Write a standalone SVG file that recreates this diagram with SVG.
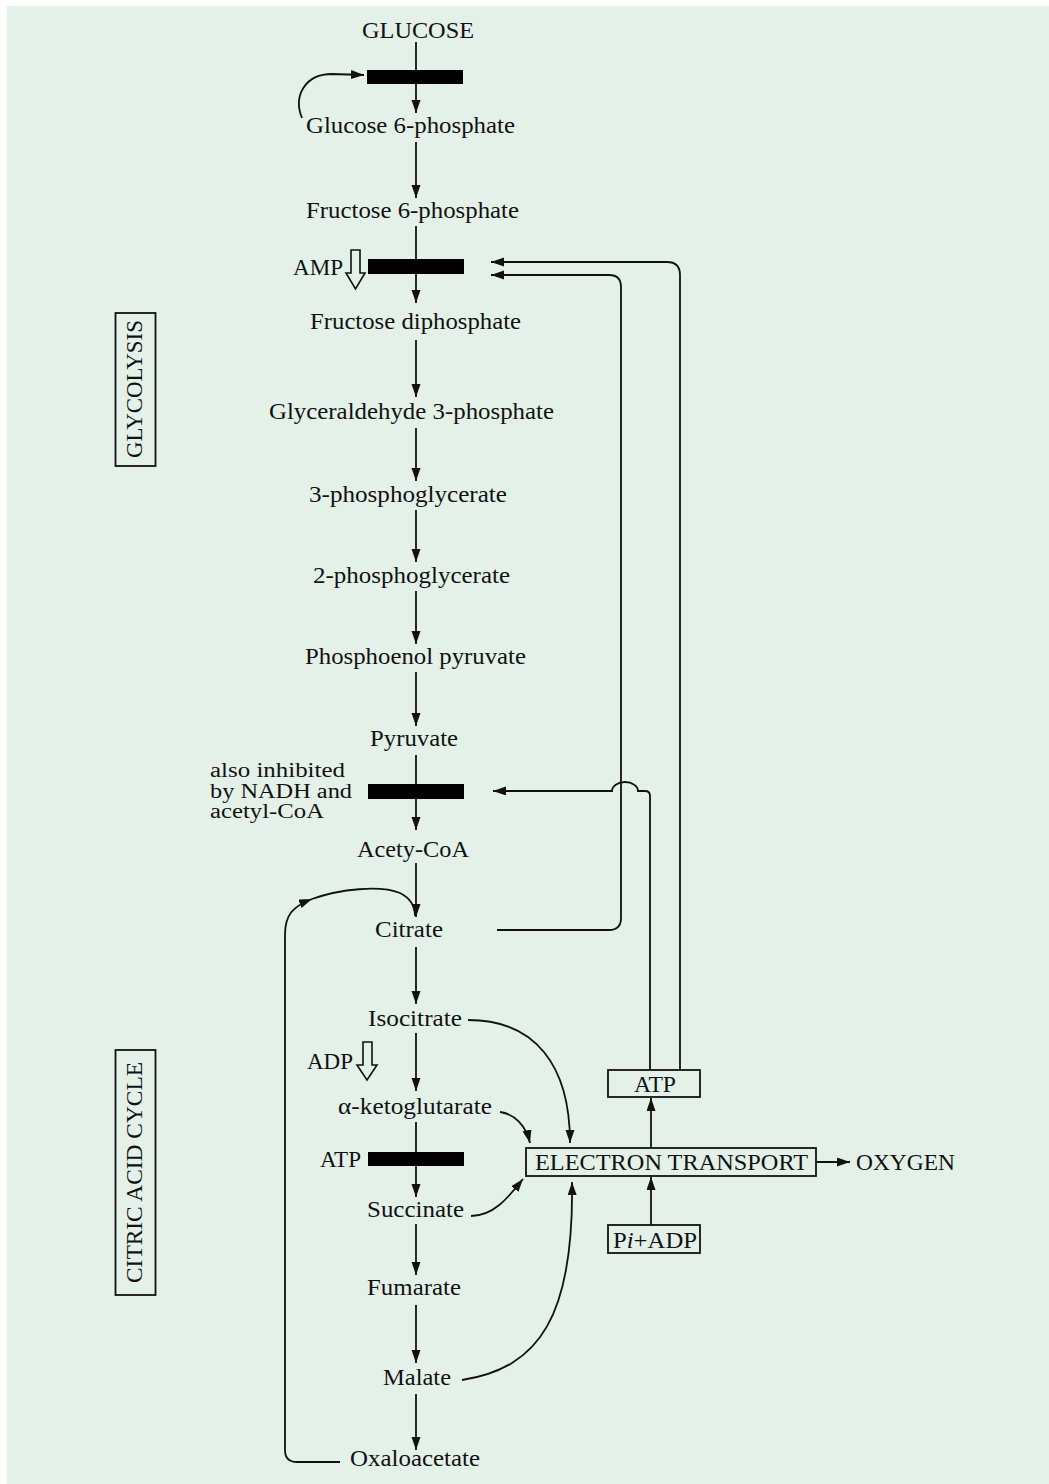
<svg xmlns="http://www.w3.org/2000/svg" width="1049" height="1484" viewBox="0 0 1049 1484">
<style>
.t{font-family:"Liberation Serif","Times New Roman",serif;font-size:23px;fill:#111;}
.n{font-size:20px;}
.m{text-anchor:middle;}
.c{fill:none;stroke:#111;stroke-width:1.8;}
.a{marker-end:url(#ah);}
.bar{fill:#000;}
.box{fill:none;stroke:#111;stroke-width:1.8;}
.hol{fill:none;stroke:#111;stroke-width:1.6;}
</style>
<defs>
<marker id="ah" markerUnits="userSpaceOnUse" markerWidth="14" markerHeight="10" refX="13" refY="4.5" orient="auto">
<path d="M0,0 L13,4.5 L0,9 Z" fill="#111"/>
</marker>
</defs>
<rect x="7" y="6" width="1042" height="1478" fill="#e4f1e9"/>

<g id="connectors">
<path class="c a" d="M416,42 L416,113"/>
<path class="c a" d="M416,142 L416,198"/>
<path class="c a" d="M416,226 L416,303"/>
<path class="c a" d="M416,340 L416,397"/>
<path class="c a" d="M416,428 L416,481"/>
<path class="c a" d="M416,510 L416,562"/>
<path class="c a" d="M416,591 L416,644"/>
<path class="c a" d="M416,672 L416,726"/>
<path class="c a" d="M416,755 L416,830"/>
<path class="c a" d="M416,863 L416,917"/>
<path class="c a" d="M416,947 L416,1004"/>
<path class="c a" d="M416,1033 L416,1091"/>
<path class="c a" d="M416,1122 L416,1197"/>
<path class="c a" d="M416,1224 L416,1275"/>
<path class="c a" d="M416,1305 L416,1363"/>
<path class="c a" d="M416,1394 L416,1450"/>
<!-- hexokinase feedback -->
<path class="c a" d="M302,118 C293,96 305,74 332,74 L364,75"/>
<!-- ATP feedback to PFK -->
<path class="c a" d="M680,1070 L680,275 Q680,262 667,262 L491,262"/>
<!-- citrate feedback to PFK -->
<path class="c a" d="M497,930 L609,930 Q621,930 621,918 L621,287 Q621,275 609,275 L491,275"/>
<!-- ATP feedback to pyruvate dehydrogenase -->
<path class="c a" d="M650,1070 L650,796 Q650,791 645,791 L638,791 A13,9 0 0 0 612,791 L493,791"/>
<!-- oxaloacetate loop -->
<path class="c a" d="M340,1462 L297,1462 Q285,1462 285,1450 L285,935 C285,915 292,907 312,899"/>
<path class="c" d="M312,899 C340,889 380,885 400,893 C410,898 415,905 415,916"/>
<!-- to electron transport -->
<path class="c a" d="M468,1020 C535,1020 570,1065 570,1143"/>
<path class="c a" d="M500,1112 C515,1114 526,1126 530,1143"/>
<path class="c a" d="M471,1216 C495,1216 510,1195 523,1179"/>
<path class="c a" d="M462,1380 C540,1368 574,1315 572,1182"/>
<path class="c a" d="M651,1148 L651,1098"/>
<path class="c a" d="M651,1225 L651,1177"/>
<path class="c a" d="M817,1162 L850,1162"/>
</g>

<g id="glucose"><text class="t m" x="418" y="38" textLength="112" lengthAdjust="spacingAndGlyphs">GLUCOSE</text></g>
<g id="block-hexokinase"><rect class="bar" x="367" y="70" width="96" height="14"/></g>
<g id="glucose-6-phosphate"><text class="t m" x="410.5" y="133" textLength="209" lengthAdjust="spacingAndGlyphs">Glucose 6-phosphate</text></g>
<g id="fructose-6-phosphate"><text class="t m" x="412.5" y="218" textLength="213" lengthAdjust="spacingAndGlyphs">Fructose 6-phosphate</text></g>
<g id="block-pfk"><rect class="bar" x="368" y="259" width="96" height="15"/></g>
<g id="amp"><text class="t" x="293" y="275" textLength="50" lengthAdjust="spacingAndGlyphs">AMP</text>
<polygon class="hol" points="351,250 360,250 360,273 365,273 355.5,289 346,273 351,273"/></g>
<g id="fructose-diphosphate"><text class="t m" x="415.5" y="329" textLength="211" lengthAdjust="spacingAndGlyphs">Fructose diphosphate</text></g>
<g id="glyceraldehyde-3-phosphate"><text class="t m" x="411.5" y="419" textLength="285" lengthAdjust="spacingAndGlyphs">Glyceraldehyde 3-phosphate</text></g>
<g id="phosphoglycerate-3"><text class="t m" x="408" y="502" textLength="198" lengthAdjust="spacingAndGlyphs">3-phosphoglycerate</text></g>
<g id="phosphoglycerate-2"><text class="t m" x="411.5" y="583" textLength="197" lengthAdjust="spacingAndGlyphs">2-phosphoglycerate</text></g>
<g id="phosphoenol-pyruvate"><text class="t m" x="415.5" y="664" textLength="221" lengthAdjust="spacingAndGlyphs">Phosphoenol pyruvate</text></g>
<g id="pyruvate"><text class="t m" x="414" y="746" textLength="88" lengthAdjust="spacingAndGlyphs">Pyruvate</text></g>
<g id="note-inhibited">
<text class="t n" x="210" y="777" textLength="135" lengthAdjust="spacingAndGlyphs">also inhibited</text>
<text class="t n" x="210" y="798" textLength="142" lengthAdjust="spacingAndGlyphs">by NADH and</text>
<text class="t n" x="210" y="818" textLength="114" lengthAdjust="spacingAndGlyphs">acetyl-CoA</text>
</g>
<g id="block-pdh"><rect class="bar" x="368" y="784" width="96" height="15"/></g>
<g id="acetyl-coa"><text class="t m" x="413" y="857" textLength="112" lengthAdjust="spacingAndGlyphs">Acety-CoA</text></g>
<g id="citrate"><text class="t m" x="409" y="937" textLength="68" lengthAdjust="spacingAndGlyphs">Citrate</text></g>
<g id="isocitrate"><text class="t m" x="415" y="1026" textLength="94" lengthAdjust="spacingAndGlyphs">Isocitrate</text></g>
<g id="adp"><text class="t" x="307" y="1069" textLength="46" lengthAdjust="spacingAndGlyphs">ADP</text>
<polygon class="hol" points="363,1042 372,1042 372,1065 377,1065 367,1080 357,1065 363,1065"/></g>
<g id="alpha-ketoglutarate"><text class="t m" x="415" y="1114" textLength="154" lengthAdjust="spacingAndGlyphs">α-ketoglutarate</text></g>
<g id="atp-inhibit"><text class="t" x="320" y="1167" textLength="41" lengthAdjust="spacingAndGlyphs">ATP</text>
<rect class="bar" x="368" y="1152" width="96" height="14"/></g>
<g id="succinate"><text class="t m" x="415.5" y="1217" textLength="97" lengthAdjust="spacingAndGlyphs">Succinate</text></g>
<g id="fumarate"><text class="t m" x="414" y="1295" textLength="94" lengthAdjust="spacingAndGlyphs">Fumarate</text></g>
<g id="malate"><text class="t m" x="417" y="1385" textLength="68" lengthAdjust="spacingAndGlyphs">Malate</text></g>
<g id="oxaloacetate"><text class="t m" x="415" y="1466" textLength="130" lengthAdjust="spacingAndGlyphs">Oxaloacetate</text></g>

<g id="electron-transport"><rect class="box" x="526" y="1148" width="290" height="28" stroke-width="2.2"/>
<text class="t m" x="671.5" y="1170" textLength="273" lengthAdjust="spacingAndGlyphs">ELECTRON TRANSPORT</text></g>
<g id="oxygen"><text class="t" x="856" y="1170" textLength="99" lengthAdjust="spacingAndGlyphs">OXYGEN</text></g>
<g id="atp-box"><rect class="box" x="608" y="1070" width="92" height="27"/>
<text class="t m" x="655" y="1092" textLength="42" lengthAdjust="spacingAndGlyphs">ATP</text></g>
<g id="pi-adp"><rect class="box" x="608" y="1225" width="92" height="28"/>
<text class="t" x="613" y="1248" textLength="84" lengthAdjust="spacingAndGlyphs">P<tspan font-style="italic">i</tspan>+ADP</text></g>

<g id="label-glycolysis"><rect class="box" x="115.5" y="313" width="40" height="153"/>
<text class="t m" transform="translate(142,389) rotate(-90)" textLength="138" lengthAdjust="spacingAndGlyphs">GLYCOLYSIS</text></g>
<g id="label-citric"><rect class="box" x="115.5" y="1050" width="40" height="245"/>
<text class="t m" transform="translate(142,1172.5) rotate(-90)" textLength="221" lengthAdjust="spacingAndGlyphs">CITRIC ACID CYCLE</text></g>
</svg>
